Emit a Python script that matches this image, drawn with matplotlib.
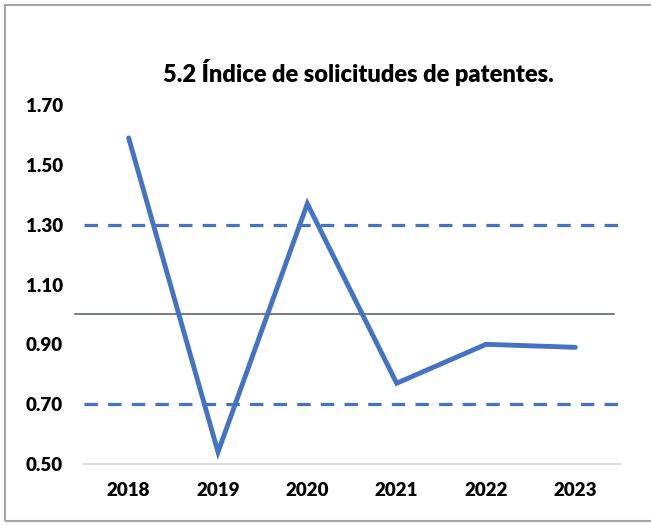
import matplotlib
matplotlib.use("Agg")
from matplotlib import pyplot as plt
from matplotlib.patches import Rectangle

years = ['2018', '2019', '2020', '2021', '2022', '2023']
indice = [1.59, 0.54, 1.37, 0.77, 0.90, 0.89]
limite_sup = 1.30
limite_inf = 0.70
referencia = 1.00
y_ticks = [0.50, 0.70, 0.90, 1.10, 1.30, 1.50, 1.70]

plt.rcParams['font.family'] = ['Lato', 'DejaVu Sans']

fig = plt.figure(figsize=(6.51, 5.25), dpi=100)
ax = fig.add_axes([84/651, 1-464/525, (620-84)/651, (464-105)/525])

x = list(range(len(years)))
blue = '#4472C4'

# limits (dashed) and reference line
ax.plot([-0.5, 5.53], [limite_sup]*2, color=blue, lw=2.3, dashes=(4.2, 3.2), clip_on=False)
ax.plot([-0.5, 5.53], [limite_inf]*2, color=blue, lw=2.3, dashes=(4.2, 3.2), clip_on=False)
ax.plot([-0.6, 5.43], [referencia]*2, color='#4d5566', lw=1.1, clip_on=False)

ax.plot(x, indice, color=blue, lw=3.5, solid_capstyle='round', solid_joinstyle='miter', clip_on=False)

ax.set_xlim(-0.5, 5.5)
ax.set_ylim(0.5, 1.7)
ax.set_yticks(y_ticks)
ax.set_yticklabels(['%.2f' % v for v in y_ticks])
ax.set_xticks(x)
ax.set_xticklabels(years)
for lab in ax.get_xticklabels() + ax.get_yticklabels():
    lab.set_fontweight('heavy')
    lab.set_fontsize(13.5)
ax.tick_params(axis='both', length=0)
ax.tick_params(axis='y', pad=15)
ax.tick_params(axis='x', pad=13)

for s in ['top', 'right', 'left']:
    ax.spines[s].set_visible(False)
ax.spines['bottom'].set_color('#d9d9d9')
ax.spines['bottom'].set_linewidth(1.3)

fig.text(358/651, 1-72/525, '5.2 Índice de solicitudes de patentes.', ha='center', va='center',
         fontsize=17, fontweight='heavy')

# chart border
fig.add_artist(Rectangle((5/651, 1-521/525), 1.0, (521-5)/525, transform=fig.transFigure,
                         fill=False, edgecolor='#a6a6a6', lw=1.5))

fig.savefig('out.png', dpi=100)
